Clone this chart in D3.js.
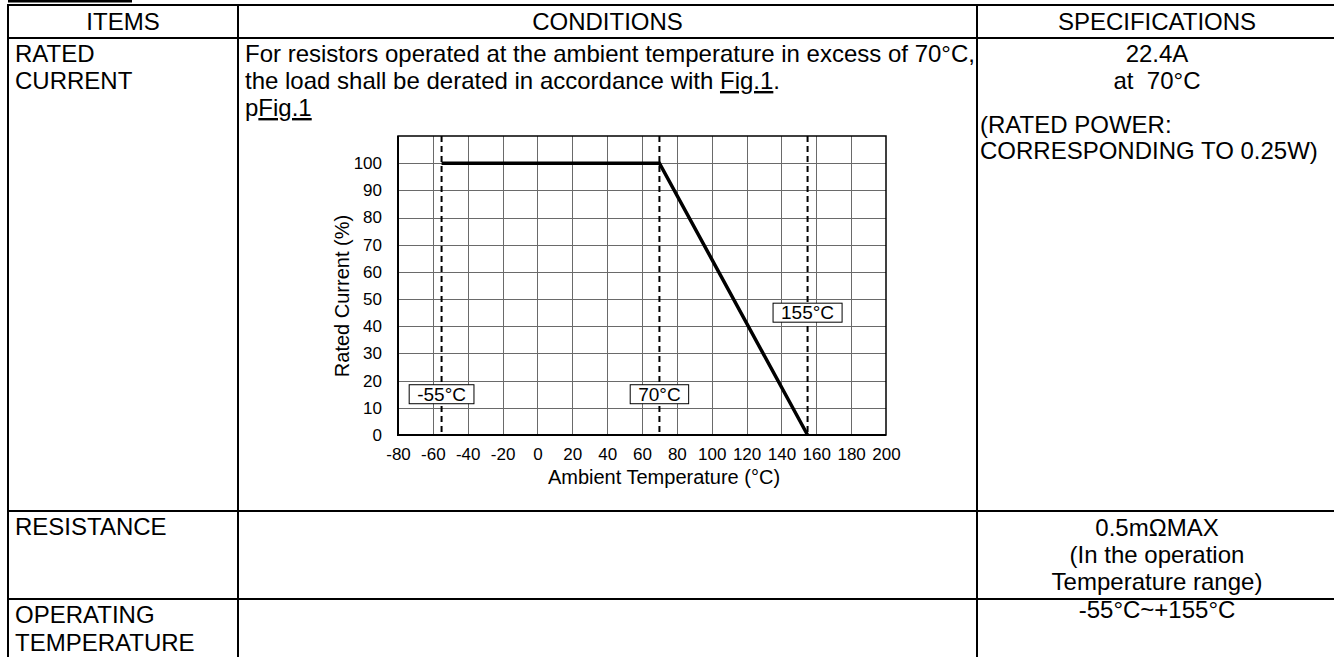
<!DOCTYPE html>
<html>
<head>
<meta charset="utf-8">
<script src="https://cdn.jsdelivr.net/npm/d3@7"></script>
<style>
  html, body { margin: 0; padding: 0; background: #fff; }
  svg { display: block; }
  text { font-family: "Liberation Sans", Arial, sans-serif; fill: #000; white-space: pre; }
</style>
</head>
<body>
<svg id="chart" width="1334" height="657"></svg>
<script>
// ---- Chart data ----
const tempTicks = [-80, -60, -40, -20, 0, 20, 40, 60, 80, 100, 120, 140, 160, 180, 200];
const currentTicks = [0, 10, 20, 30, 40, 50, 60, 70, 80, 90, 100];
const derateTemps = [-55, 70, 155];
const derateValues = [100, 100, 0];
const markerTemps = [-55, 70, 155];
const markerLabels = ["-55°C", "70°C", "155°C"];
const markerLabelLevels = [15, 15, 45];
const xTitle = "Ambient Temperature (°C)";
const yTitle = "Rated Current (%)";

// ---- Table text ----
const headers = ["ITEMS", "CONDITIONS", "SPECIFICATIONS"];
const itemRows = [["RATED", "CURRENT"], ["RESISTANCE"], ["OPERATING", "TEMPERATURE"]];
const specRated = ["22.4A", "at  70°C"];
const specRatedNote = ["(RATED POWER:", "CORRESPONDING TO 0.25W)"];
const specResistance = ["0.5mΩMAX", "(In the operation", "Temperature range)"];
const specOperating = ["-55°C~+155°C"];

const svg = d3.select("#chart");
svg.append("rect").attr("width", 1334).attr("height", 657).attr("fill", "#fff");

// ---- Table layout ----
const colX = [8, 238, 977, 1337];
const rowY = [5, 38, 511, 599, 660];
const T = svg.append("g");

T.append("rect").attr("x", 8).attr("y", 0).attr("width", 124).attr("height", 2.5).attr("fill", "#000");

const lineW = 2;
rowY.slice(0, 4).forEach(y => {
  T.append("line").attr("x1", colX[0] - 1).attr("x2", 1334).attr("y1", y).attr("y2", y)
    .attr("stroke", "#000").attr("stroke-width", lineW);
});
colX.slice(0, 3).forEach(x => {
  T.append("line").attr("x1", x).attr("x2", x).attr("y1", rowY[0]).attr("y2", 657)
    .attr("stroke", "#000").attr("stroke-width", lineW);
});

const FS = 24;
function txt(x, y, s, anchor) {
  return T.append("text").attr("x", x).attr("y", y).attr("font-size", FS)
    .attr("text-anchor", anchor || "start").text(s);
}
headers.forEach((h, i) => txt((colX[i] + colX[i + 1]) / 2, 30, h, "middle"));

const itemBase = [[62, 89], [535], [623, 651]];
itemRows.forEach((lines, r) => lines.forEach((s, k) => txt(15, itemBase[r][k], s)));

txt(245, 62, "For resistors operated at the ambient temperature in excess of 70°C,");
const l2 = T.append("text").attr("x", 245).attr("y", 89).attr("font-size", FS);
l2.append("tspan").text("the load shall be derated in accordance with ");
l2.append("tspan").style("text-decoration", "underline").text("Fig.1");
l2.append("tspan").text(".");
const l3 = T.append("text").attr("x", 245).attr("y", 116).attr("font-size", FS);
l3.append("tspan").text("p");
l3.append("tspan").style("text-decoration", "underline").text("Fig.1");

const specC = (colX[2] + colX[3]) / 2;
specRated.forEach((s, k) => txt(specC, [62, 89][k], s, "middle"));
specRatedNote.forEach((s, k) => txt(980, [133, 159][k], s));
specResistance.forEach((s, k) => txt(specC, [536, 563, 590][k], s, "middle"));
specOperating.forEach((s, k) => txt(specC, 618, s, "middle"));

// ---- Chart ----
const x = d3.scaleLinear().domain([-80, 200]).range([398, 886]);
const y = d3.scaleLinear().domain([0, 110]).range([435, 136]);
const C = svg.append("g");

C.append("g").selectAll("line").data(tempTicks.slice(1, -1)).join("line")
  .attr("x1", d => Math.round(x(d)) + 0.5).attr("x2", d => Math.round(x(d)) + 0.5)
  .attr("y1", y(110)).attr("y2", y(0))
  .attr("stroke", "#6a6a6a").attr("stroke-width", 1);
C.append("g").selectAll("line").data(currentTicks.slice(1)).join("line")
  .attr("y1", d => Math.round(y(d)) + 0.5).attr("y2", d => Math.round(y(d)) + 0.5)
  .attr("x1", x(-80)).attr("x2", x(200))
  .attr("stroke", "#6a6a6a").attr("stroke-width", 1);

C.append("rect").attr("x", x(-80)).attr("y", y(110))
  .attr("width", x(200) - x(-80)).attr("height", y(0) - y(110))
  .attr("fill", "none").attr("stroke", "#000").attr("stroke-width", 1.5);
C.append("line").attr("x1", x(-80)).attr("x2", x(-80)).attr("y1", y(110)).attr("y2", y(0))
  .attr("stroke", "#000").attr("stroke-width", 2);
C.append("line").attr("x1", x(-80) - 1).attr("x2", x(200)).attr("y1", y(0)).attr("y2", y(0))
  .attr("stroke", "#000").attr("stroke-width", 2);

C.append("g").selectAll("line").data(markerTemps).join("line")
  .attr("x1", d => x(d)).attr("x2", d => x(d)).attr("y1", y(110)).attr("y2", y(0))
  .attr("stroke", "#000").attr("stroke-width", 2).attr("stroke-dasharray", "6,4");

C.append("path")
  .datum(derateTemps.map((t, i) => [t, derateValues[i]]))
  .attr("d", d3.line().x(d => x(d[0])).y(d => y(d[1])))
  .attr("fill", "none").attr("stroke", "#000").attr("stroke-width", 3.5)
  .attr("stroke-linejoin", "miter");

const fmt = d => String(d);
const xAxis = C.append("g").attr("transform", `translate(0,${y(0)})`)
  .call(d3.axisBottom(x).tickValues(tempTicks).tickSize(0).tickPadding(13).tickFormat(fmt));
const yAxis = C.append("g").attr("transform", `translate(${x(-80)},0)`)
  .call(d3.axisLeft(y).tickValues(currentTicks).tickSize(0).tickPadding(16).tickFormat(fmt));
[xAxis, yAxis].forEach(a => {
  a.select(".domain").remove();
  a.selectAll("text").attr("font-size", 17).attr("font-family", "Liberation Sans, Arial, sans-serif").attr("fill", "#000");
});

C.append("text").attr("x", 664).attr("y", 484).attr("text-anchor", "middle")
  .attr("font-size", 20).text(xTitle);
C.append("text").attr("transform", `translate(349,296) rotate(-90)`).attr("text-anchor", "middle")
  .attr("font-size", 20).text(yTitle);

markerTemps.forEach((t, i) => {
  const g = C.append("g");
  const tx = g.append("text").attr("x", x(t)).attr("y", y(markerLabelLevels[i]))
    .attr("dy", "0.35em").attr("text-anchor", "middle").attr("font-size", 19).text(markerLabels[i]);
  const bb = tx.node().getBBox();
  g.insert("rect", "text").attr("x", x(t) - bb.width / 2 - 8).attr("y", y(markerLabelLevels[i]) - 9.5)
    .attr("width", bb.width + 16).attr("height", 19)
    .attr("fill", "#fff").attr("stroke", "#000").attr("stroke-width", 1);
});
</script>
</body>
</html>
